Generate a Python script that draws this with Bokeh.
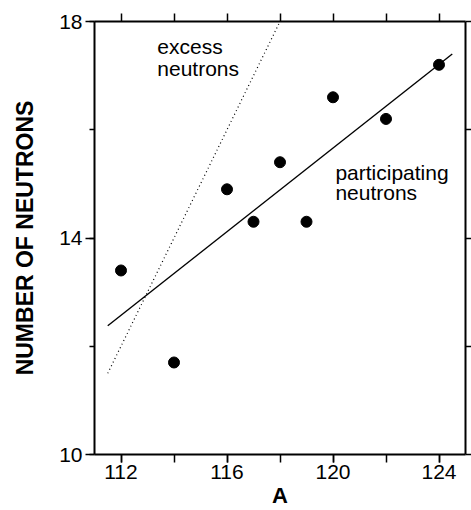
from bokeh.plotting import figure
from bokeh.models import LinearAxis, FixedTicker, Range1d, CustomJSTickFormatter
from bokeh.core.properties import value
from bokeh.embed import file_html
from bokeh.resources import INLINE

# data
mass_a = [112, 114, 116, 117, 118, 119, 120, 122, 124]
neutrons = [13.4, 11.7, 14.9, 14.3, 15.4, 14.3, 16.6, 16.2, 17.2]

fit_x = [111.5, 124.5]
fit_y = [12.38, 17.40]

excess_x = [111.5, 118.0]
excess_y = [11.5, 18.0]

x_major = [112, 116, 120, 124]
x_all = [112, 114, 116, 118, 120, 122, 124]
y_major = [10, 14, 18]
y_all = [10, 12, 14, 16, 18]

FONT = "Liberation Sans"

p = figure(width=471, height=510, output_backend="svg", toolbar_location=None,
           x_range=Range1d(111, 125), y_range=Range1d(10, 18),
           min_border_left=94, min_border_right=6, min_border_top=21,
           min_border_bottom=55, outline_line_color=None,
           background_fill_color="white", border_fill_color="white")
p.grid.visible = False

for ax in (p.xaxis[0], p.yaxis[0]):
    ax.axis_line_width = 2
    ax.major_tick_line_width = 1.5
    ax.minor_tick_line_width = 1.5
    ax.major_label_text_font = FONT
    ax.major_label_text_font_size = "21px"
    ax.major_label_text_color = "black"
    ax.axis_label_text_font = FONT
    ax.axis_label_text_font_style = "bold"
    ax.axis_label_text_color = "black"

xa = p.xaxis[0]
xa.ticker = FixedTicker(ticks=x_major, minor_ticks=x_all)
xa.major_tick_in = 0
xa.major_tick_out = 8
xa.minor_tick_in = 0
xa.minor_tick_out = 8
xa.major_label_standoff = 2
xa.axis_label = "A"
xa.axis_label_text_font_size = "22px"
xa.axis_label_standoff = 1

ya = p.yaxis[0]
ya.ticker = FixedTicker(ticks=y_major, minor_ticks=y_all)
ya.major_tick_in = 0
ya.major_tick_out = 9
ya.minor_tick_in = 0
ya.minor_tick_out = 5
ya.major_label_standoff = 3
ya.axis_label = "NUMBER OF NEUTRONS"
ya.axis_label_text_font_size = "23px"
ya.axis_label_standoff = 18

blank = CustomJSTickFormatter(code="return ''")

top = LinearAxis(ticker=FixedTicker(ticks=x_all), axis_line_width=2,
                 major_tick_in=0, major_tick_out=8, major_tick_line_width=1.5,
                 minor_tick_line_color=None, formatter=blank,
                 major_label_standoff=0)
p.add_layout(top, "above")

right = LinearAxis(ticker=FixedTicker(ticks=y_all), axis_line_width=2,
                   major_tick_in=0, major_tick_out=6, major_tick_line_width=1.5,
                   minor_tick_line_color=None, formatter=blank,
                   major_label_standoff=0)
p.add_layout(right, "right")

p.line(excess_x, excess_y, line_color="black", line_width=1.2, line_dash="1 3")
p.line(fit_x, fit_y, line_color="black", line_width=1.4)
p.scatter(mass_a, neutrons, size=11, color="black")

label_x = [113.37, 113.37, 120.09, 120.09]
label_y = [17.545, 17.128, 15.21, 14.835]
label_t = ["excess", "neutrons", "participating", "neutrons"]
p.text(label_x, label_y, text=label_t, text_font=value(FONT),
       text_font_size="21px", text_baseline="alphabetic", text_align="left",
       text_color="black")

open("out.html", "w").write(file_html(p, INLINE))
